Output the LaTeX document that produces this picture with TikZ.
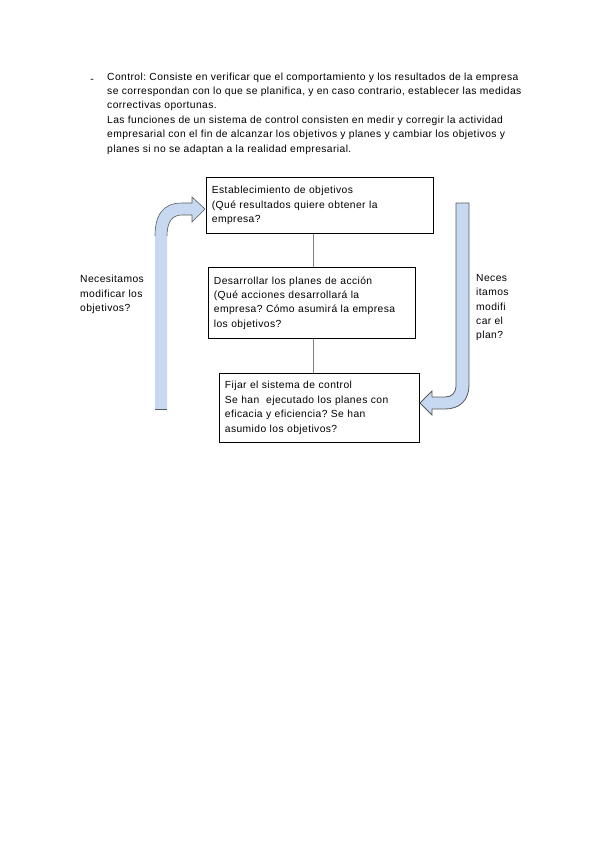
\documentclass[tikz,border=0pt]{standalone}
\usepackage{fontspec}
\setmainfont[LetterSpace=4]{Liberation Sans}
\usepackage{xcolor}
\usepackage{tikz}
\definecolor{flecha}{RGB}{198,217,241}
\definecolor{borde}{RGB}{90,90,90}
\frenchspacing

\begin{document}
\begin{tikzpicture}[x=1pt,y=-1pt,font=\fontsize{10.3}{14.4}\selectfont,
    caja/.style={draw=black,line width=.8pt,anchor=north west,align=left,
      inner xsep=5.5pt,inner ysep=2pt},
    enlace/.style={draw=gray,line width=.7pt}]
      \useasboundingbox (0,0) rectangle (600,848);
      % parrafo de arriba
      \node[anchor=base] (guion) at (92,82.5) {-};
      \node[anchor=north west,align=left,inner sep=0pt] (texto) at (107,72.5)
        {Control: Consiste en verificar que el comportamiento y los resultados de la empresa\\
         se correspondan con lo que se planifica, y en caso contrario, establecer las medidas\\
         correctivas oportunas.\\
         Las funciones de un sistema de control consisten en medir y corregir la actividad\\
         empresarial con el fin de alcanzar los objetivos y planes y cambiar los objetivos y\\
         planes si no se adaptan a la realidad empresarial.};
      % cajas
      \node[caja,text width=216pt,minimum height=56pt] (objetivos) at (206,177)
        {Establecimiento de objetivos\\(Qué resultados quiere obtener la\\empresa?};
      \node[caja,text width=196pt,minimum height=71pt] (planes) at (208,267)
        {Desarrollar los planes de acción\\(Qué acciones desarrollará la\\empresa? Cómo asumirá la empresa\\los objetivos?};
      \node[caja,text width=189pt,minimum height=69pt] (control) at (219,373)
        {Fijar el sistema de control\\Se han\ \ ejecutado los planes con\\eficacia y eficiencia? Se han\\asumido los objetivos?};
      \coordinate (eje) at (313,0);
      \draw[enlace] (objetivos.south -| eje) -- (planes.north -| eje);
      \draw[enlace] (planes.south -| eje) -- (control.north -| eje);
      % flecha izquierda
      \fill[flecha] (155,409) -- (155,235) .. controls (155,215) and (163,203) .. (182,203)
        -- (192,203) -- (192,197) -- (205,209) -- (192,222) -- (192,215) -- (182,215)
        .. controls (172,215) and (167,222) .. (167,235) -- (167,409) -- cycle;
      \draw[borde,line width=.6pt] (155,236) .. controls (155,215) and (163,203) .. (182,203)
        -- (192,203) -- (192,197) -- (205,209) -- (192,222) -- (192,215) -- (182,215)
        .. controls (172,215) and (167,222) .. (167,236);
      \draw[borde,line width=1pt] (155,409) -- (167,409);
      % flecha derecha
      \filldraw[fill=flecha,draw=borde,line width=.8pt] (456,203) -- (469,203) -- (469,385)
        .. controls (469,400) and (460,409) .. (445,409) -- (432,409) -- (432,415)
        -- (420,403) -- (432,391) -- (432,397) -- (445,397)
        .. controls (452,397) and (456,393) .. (456,385) -- cycle;
      % etiquetas
      \node[anchor=north west,align=left,inner sep=0pt] (izq) at (80,275)
        {Necesitamos\\modificar los\\objetivos?};
      \node[anchor=north west,align=left,inner sep=0pt] (der) at (476,274)
        {Neces\\itamos\\modifi\\car el\\plan?};
    \end{tikzpicture}
\end{document}
